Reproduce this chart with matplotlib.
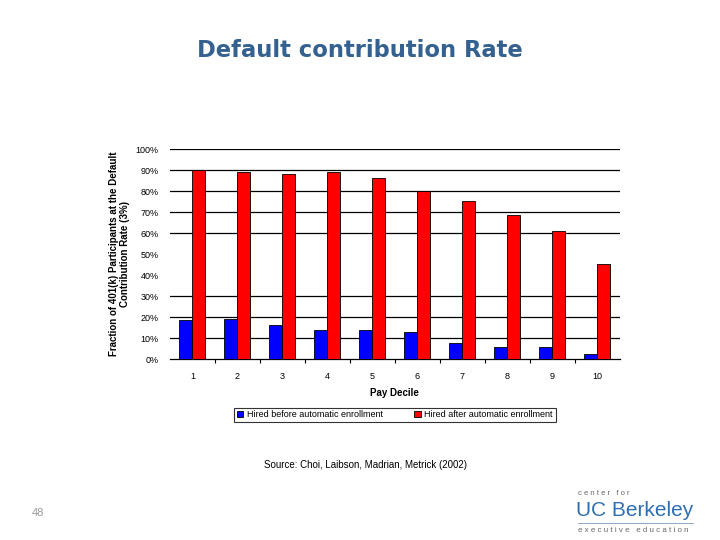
import matplotlib
matplotlib.use("Agg")
import matplotlib.pyplot as plt
import numpy as np

plt.rcParams["font.family"] = ["Liberation Sans", "DejaVu Sans"]

# ---------------- data ----------------
deciles = ["1", "2", "3", "4", "5", "6", "7", "8", "9", "10"]
hired_before = [18.7, 19.2, 16.3, 13.9, 13.9, 12.7, 7.9, 5.9, 5.9, 2.5]
hired_after = [90.0, 88.9, 87.9, 88.9, 86.2, 80.0, 75.1, 68.7, 61.0, 45.2]
y_ticks = [0, 10, 20, 30, 40, 50, 60, 70, 80, 90, 100]
grid_levels = [10, 20, 30, 60, 70, 80, 90, 100]   # 40/50 lines not visible on slide

BLUE = "#0000ff"; RED = "#ff0000"; TITLE = "#34618f"

fig = plt.figure(figsize=(7.2, 5.4), dpi=100)
fig.text(0.5, 0.906, "Default contribution Rate", ha="center", va="center",
         fontsize=16.3, weight="bold", color=TITLE, family="DejaVu Sans")

ax = fig.add_axes([0.236, 0.335, 0.625, 0.389])
x = np.arange(len(deciles))
w = 0.29
ax.bar(x - w / 2, hired_before, w, color=BLUE, edgecolor="black", linewidth=0.6,
       label="Hired before automatic enrollment", zorder=3)
ax.bar(x + w / 2, hired_after, w, color=RED, edgecolor="black", linewidth=0.6,
       label="Hired after automatic enrollment", zorder=3)
for g in grid_levels:
    ax.axhline(g, color="black", linewidth=0.9, zorder=1)

ax.set_xlim(-0.5, len(deciles) - 0.5)
ax.set_ylim(0, 100)
ax.set_yticks(y_ticks)
ax.set_yticklabels([f"{t}%" for t in y_ticks], fontsize=6.5)
ax.set_xticks(x)
ax.set_xticklabels(deciles, fontsize=6.5)
ax.set_xticks(np.arange(0.5, len(deciles) - 1, 1), minor=True)
ax.tick_params(axis="x", which="major", length=0, pad=9)
ax.tick_params(axis="x", which="minor", length=3, width=0.8, direction="out")
ax.tick_params(axis="y", length=0, pad=8)
for s in ["top", "right", "left"]:
    ax.spines[s].set_visible(False)
ax.spines["bottom"].set_linewidth(0.9)

ax.set_xlabel("Pay Decile", fontsize=7, weight="bold", labelpad=5)
ax.set_ylabel("Fraction of 401(k) Participants at the Default\nContribution Rate (3%)",
              fontsize=7, weight="bold", labelpad=4)

leg = ax.legend(loc="upper center", bbox_to_anchor=(0.5, -0.21), ncol=2,
                fontsize=6.5, frameon=True, fancybox=False, edgecolor="black",
                handlelength=0.7, handleheight=0.7, handletextpad=0.4,
                columnspacing=3.5, borderpad=0.3)
leg.get_frame().set_linewidth(0.8)

fig.text(0.508, 0.139, "Source: Choi, Laibson, Madrian, Metrick (2002)",
         ha="center", va="center", fontsize=7)
fig.text(0.052, 0.05, "48", ha="center", va="center", fontsize=8, color="#999999")

# logo text, bottom right
fig.text(0.803, 0.087, "c e n t e r   f o r", fontsize=5.5, color="#666666", va="center")
fig.text(0.800, 0.054, "UC Berkeley", fontsize=15, color="#2f6fb0", va="center")
fig.add_artist(plt.Line2D([0.803, 0.962], [0.031, 0.031], color="#7a9cc0", linewidth=0.6))
fig.text(0.803, 0.018, "e x e c u t i v e   e d u c a t i o n", fontsize=5.7,
         color="#666666", va="center")

plt.savefig("out.png", dpi=100)
